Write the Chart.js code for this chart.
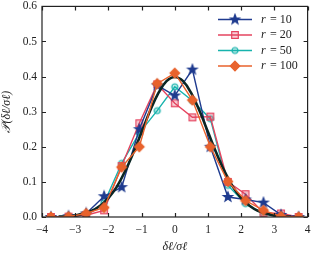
<!DOCTYPE html>
<html>
<head>
<meta charset="UTF-8">
<script src="https://cdn.jsdelivr.net/npm/chart.js"></script>
<style>
  html, body { margin: 0; padding: 0; background: #fff; }
  #wrap { width: 314px; height: 254px; }
</style>
</head>
<body>
<div id="wrap"><canvas id="c" width="314" height="254"></canvas></div>
<script>
// bin centres (delta l / sigma l)
const xBins = [-3.73, -3.2, -2.67, -2.13, -1.6, -1.07, -0.53, 0, 0.53, 1.07, 1.6, 2.13, 2.67, 3.2, 3.73];
const r10  = [0, 0.002, 0.010, 0.059, 0.085, 0.250, 0.375, 0.346, 0.420, 0.200, 0.057, 0.050, 0.041, 0.006, 0];
const r20  = [0, 0.001, 0.005, 0.019, 0.145, 0.267, 0.378, 0.324, 0.284, 0.286, 0.100, 0.065, 0.012, 0.010, 0];
const r50  = [0, 0.001, 0.006, 0.040, 0.153, 0.239, 0.303, 0.371, 0.331, 0.280, 0.090, 0.038, 0.008, 0.005, 0];
const r100 = [0, 0.001, 0.010, 0.027, 0.142, 0.200, 0.380, 0.410, 0.333, 0.200, 0.101, 0.047, 0.019, 0.002, 0];
// reference gaussian curve
const gaussX = [-3.5, -3, -2.5, -2.25, -2, -1.75, -1.5, -1.25, -1, -0.75, -0.5, -0.25, 0, 0.25, 0.5, 0.75, 1, 1.25, 1.5, 1.75, 2, 2.25, 2.5, 3, 3.5];
const gaussY = [0.001, 0.004, 0.018, 0.032, 0.054, 0.086, 0.130, 0.183, 0.242, 0.301, 0.352, 0.387, 0.399, 0.387, 0.352, 0.301, 0.242, 0.183, 0.130, 0.086, 0.054, 0.032, 0.018, 0.004, 0.001];
const xTicks = [-4, -3, -2, -1, 0, 1, 2, 3, 4];
const yTicks = [0, 0.1, 0.2, 0.3, 0.4, 0.5, 0.6];
const labels = ['10', '20', '50', '100'];

const BLUE = '#1f3b8f', RED = '#e5445f', TEAL = '#17b3ad', ORANGE = '#e8622c';

function marker(kind, color, fill) {
  const s = 14, c = document.createElement('canvas');
  c.width = s; c.height = s;
  const g = c.getContext('2d');
  g.translate(s / 2, s / 2);
  g.lineWidth = 1.2;
  g.strokeStyle = color;
  g.fillStyle = fill;
  g.beginPath();
  if (kind === 'star') {
    for (let i = 0; i < 10; i++) {
      const r = i % 2 ? 2.1 : 5.0;
      const a = -Math.PI / 2 + i * Math.PI / 5;
      g.lineTo(r * Math.cos(a), r * Math.sin(a));
    }
    g.closePath(); g.fill(); g.stroke();
  } else if (kind === 'square') {
    g.rect(-3.3, -3.3, 6.6, 6.6); g.fill(); g.stroke();
  } else if (kind === 'circle') {
    g.arc(0, 0, 3, 0, Math.PI * 2); g.fill(); g.stroke();
  } else {
    g.moveTo(0, -4.8); g.lineTo(4.8, 0); g.lineTo(0, 4.8); g.lineTo(-4.8, 0);
    g.closePath(); g.fill(); g.stroke();
  }
  return c;
}

const styles = [
  { data: r10, color: BLUE, img: marker('star', BLUE, BLUE) },
  { data: r20, color: RED, img: marker('square', RED, 'rgba(229,68,95,0.25)') },
  { data: r50, color: TEAL, img: marker('circle', TEAL, 'rgba(23,179,173,0.3)') },
  { data: r100, color: ORANGE, img: marker('diamond', ORANGE, ORANGE) }
];

const datasets = [{
  label: 'gauss',
  data: gaussX.map((x, i) => ({ x: x, y: gaussY[i] })),
  borderColor: '#0b2624',
  borderWidth: 2.6,
  pointRadius: 0,
  tension: 0.4,
  order: 1
}];
styles.forEach((s, k) => {
  datasets.push({
    label: 'r = ' + labels[k],
    data: xBins.map((x, i) => ({ x: x, y: s.data[i] })),
    borderColor: s.color,
    borderWidth: 1.4,
    pointStyle: s.img,
    pointRadius: 5,
    tension: 0,
    order: k === 3 ? 0 : 2
  });
});

const frame = {
  id: 'frame',
  afterDraw(chart) {
    const ctx = chart.ctx, a = chart.chartArea;
    const xs = chart.scales.x, ys = chart.scales.y;
    ctx.save();
    ctx.strokeStyle = '#222';
    ctx.lineWidth = 1.2;
    ctx.strokeRect(a.left, a.top, a.right - a.left, a.bottom - a.top);
    ctx.beginPath();
    xTicks.forEach(t => {
      const p = Math.round(xs.getPixelForValue(t)) + 0.5;
      ctx.moveTo(p, a.bottom); ctx.lineTo(p, a.bottom - 4);
      ctx.moveTo(p, a.top); ctx.lineTo(p, a.top + 4);
    });
    yTicks.forEach(t => {
      const p = Math.round(ys.getPixelForValue(t)) + 0.5;
      ctx.moveTo(a.left, p); ctx.lineTo(a.left + 4, p);
      ctx.moveTo(a.right, p); ctx.lineTo(a.right - 4, p);
    });
    ctx.stroke();
    // legend
    styles.forEach((s, k) => {
      const y = 19.5 + k * 15.5;
      ctx.strokeStyle = s.color;
      ctx.lineWidth = 1.5;
      ctx.beginPath(); ctx.moveTo(218, y); ctx.lineTo(252, y); ctx.stroke();
      ctx.drawImage(s.img, 235 - 7, y - 7);
      ctx.fillStyle = '#222';
      ctx.textBaseline = 'middle';
      ctx.font = 'italic 12px "Liberation Serif"';
      ctx.fillText('r', 261, y);
      ctx.font = '12px "Liberation Serif"';
      ctx.fillText('= ' + labels[k], 270, y);
    });
    ctx.restore();
  }
};

new Chart(document.getElementById('c'), {
  type: 'line',
  data: { datasets: datasets },
  options: {
    responsive: false,
    animation: false,
    devicePixelRatio: 1,
    layout: { padding: { top: 5, right: 4.5, left: 0, bottom: 0 } },
    plugins: { legend: { display: false }, tooltip: { enabled: false } },
    scales: {
      x: {
        type: 'linear', min: -4, max: 4,
        afterBuildTicks: s => { s.ticks = xTicks.map(v => ({ value: v })); },
        afterFit: s => { s.height = 37; s.paddingLeft = 0; s.paddingRight = 0; },
        grid: { display: false, drawTicks: false },
        border: { display: false },
        ticks: {
          padding: 6,
          color: '#222',
          font: { family: 'Liberation Serif', size: 11.5 },
          callback: v => (v < 0 ? '\u2212' + Math.abs(v) : String(v))
        },
        title: {
          display: true, text: 'δℓ/σℓ', color: '#222', padding: { top: 0, bottom: 0 },
          font: { family: 'Liberation Serif', size: 12, style: 'italic' }
        }
      },
      y: {
        min: 0, max: 0.6,
        afterBuildTicks: s => { s.ticks = yTicks.map(v => ({ value: v })); },
        afterFit: s => { s.width = 42; s.paddingTop = 0; s.paddingBottom = 0; },
        grid: { display: false, drawTicks: false },
        border: { display: false },
        ticks: {
          padding: 5,
          color: '#222',
          font: { family: 'Liberation Serif', size: 11.5 },
          callback: v => v.toFixed(1)
        },
        title: {
          display: true, text: '𝒫(δℓ/σℓ)', color: '#222', padding: { top: 0, bottom: 0 },
          font: { family: 'Liberation Serif', size: 12, style: 'italic' }
        }
      }
    }
  },
  plugins: [frame]
});
</script>
</body>
</html>
